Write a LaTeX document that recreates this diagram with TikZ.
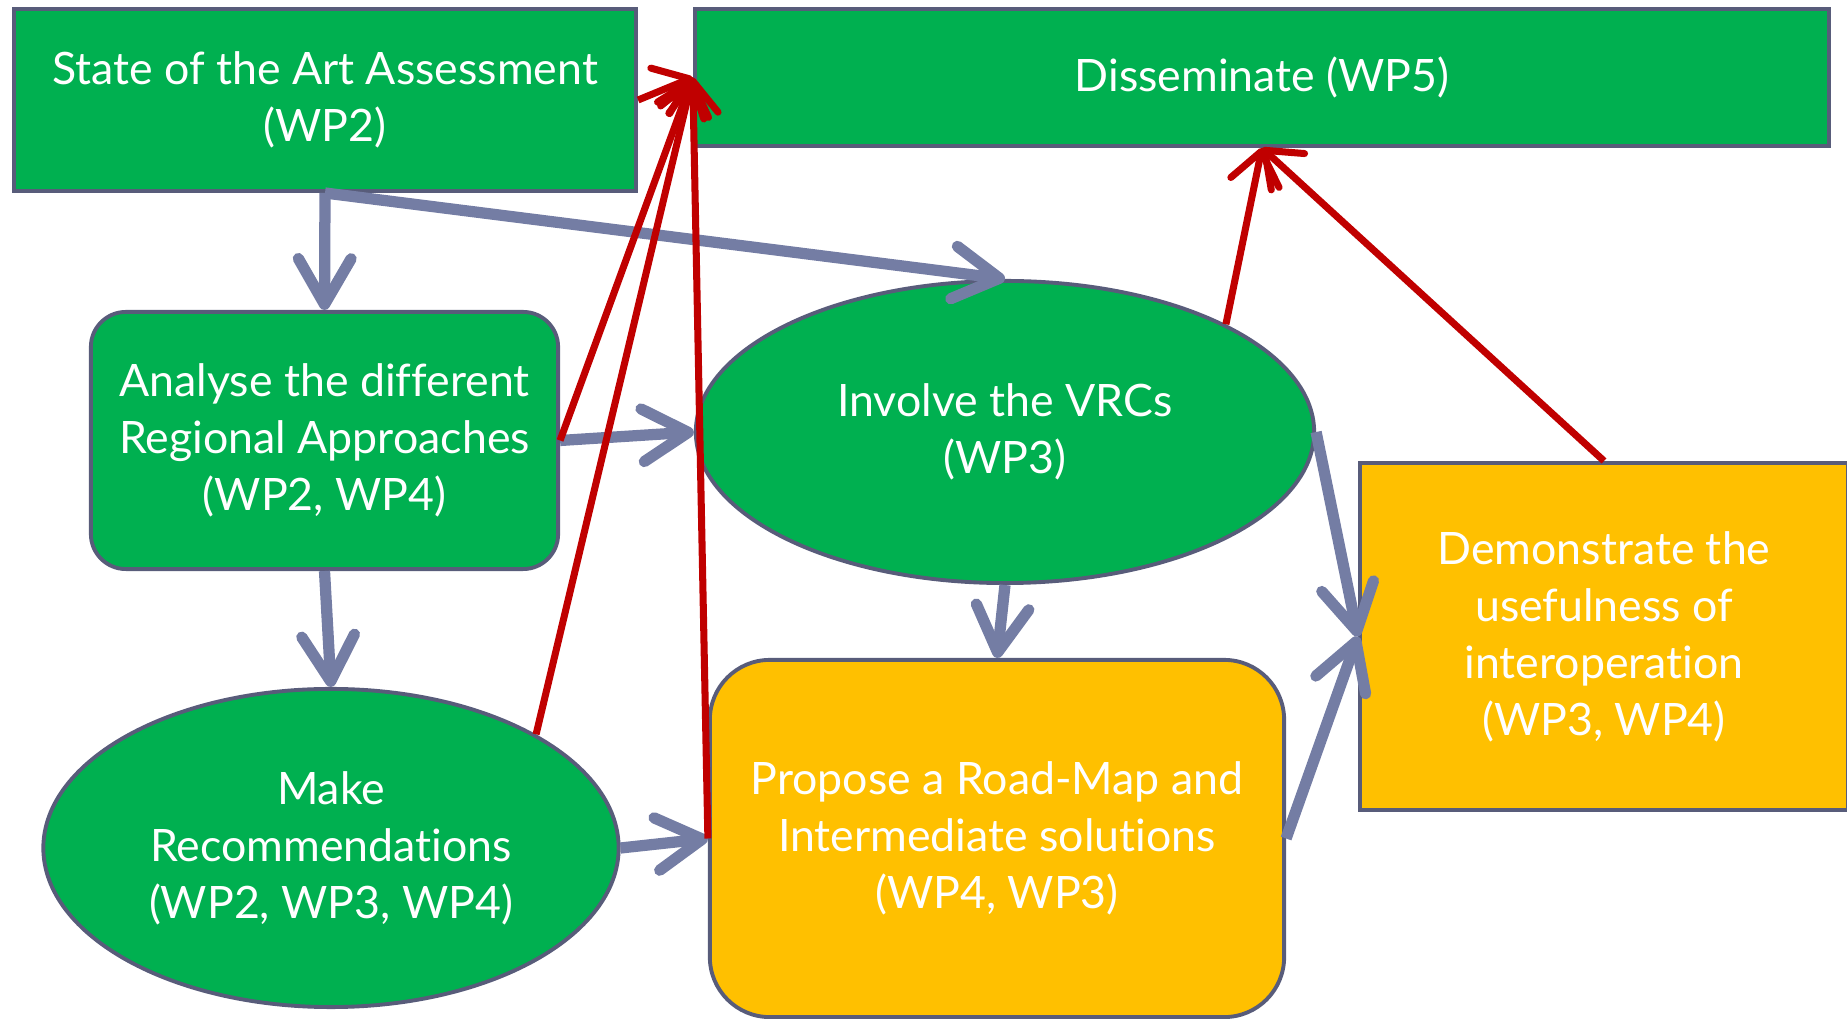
\documentclass[tikz,border=0pt]{standalone}
\usepackage{fontspec}
\setmainfont{Lato}[Ligatures=NoCommon]
\usetikzlibrary{arrows.meta,shapes.geometric}

\definecolor{boxgreen}{RGB}{0,176,80}
\definecolor{boxorange}{RGB}{255,192,0}
\definecolor{edgegray}{RGB}{88,92,122}
\definecolor{flowblue}{RGB}{116,125,164}
\definecolor{flowred}{RGB}{192,0,0}

\begin{document}
\begin{tikzpicture}[x=0.01cm, y=-0.01cm,
    task/.style={draw=edgegray, line width=1.1pt, text=white, align=center, inner sep=0pt,
        font=\fontsize{12.7}{16.2}\selectfont},
    flow/.style={flowblue, line width=3.2pt, -{Straight Barb[length=13pt,width=15pt,round]}},
    feed/.style={flowred, line width=2pt, -{Straight Barb[length=9pt,width=14pt,round]}}]

    \useasboundingbox (0,0) rectangle (1847,1019);

    \node[task, rectangle, fill=boxgreen, minimum width=6.22cm, minimum height=1.82cm] (sota) at (325,100) {State of the Art Assessment\\(WP2)};
    \node[task, rectangle, fill=boxgreen, minimum width=11.34cm, minimum height=1.37cm] (diss) at (1262,77.5) {Disseminate (WP5)};
    \node[task, rectangle, rounded corners=0.35cm, fill=boxgreen, minimum width=4.67cm, minimum height=2.57cm] (analyse) at (324.5,440.5) {Analyse the different\\Regional Approaches\\(WP2, WP4)};
    \node[task, ellipse, fill=boxgreen, minimum width=6.18cm, minimum height=3.02cm] (involve) at (1005,432) {Involve the VRCs\\(WP3)};
    \node[task, ellipse, fill=boxgreen, minimum width=5.75cm, minimum height=3.18cm] (make) at (331,848) {Make\\Recommendations\\(WP2, WP3, WP4)};
    \node[task, rectangle, rounded corners=0.6cm, fill=boxorange, minimum width=5.74cm, minimum height=3.57cm] (propose) at (997,838.5) {Propose a Road-Map and\\Intermediate solutions\\(WP4, WP3)};
    \node[task, rectangle, fill=boxorange, minimum width=4.88cm, minimum height=3.47cm] (demo) at (1604,636.5) {Demonstrate the\\usefulness of\\interoperation\\(WP3, WP4)};

    \draw[flow] (sota.south) -- (analyse.north);
    \draw[flow] (sota.south) -- (involve.north);
    \draw[flow] (analyse.east) -- (involve.west);
    \draw[flow] (analyse.south) -- (make.north);
    \draw[flow] (make.east) -- (propose.west);
    \draw[flow] (involve.south) -- (propose.north);
    \draw[flow] (involve.east) -- (demo.west);
    \draw[flow] (propose.east) -- (demo.west);

    \draw[feed] (sota.east) -- (diss.west);
    \draw[feed] (analyse.east) -- (diss.west);
    \draw[feed] (make.29) -- (diss.west);
    \draw[feed] (propose.west) -- (diss.west);
    \draw[feed] (involve.26) -- (diss.south);
    \draw[feed] (demo.north) -- (diss.south);

\end{tikzpicture}
\end{document}
